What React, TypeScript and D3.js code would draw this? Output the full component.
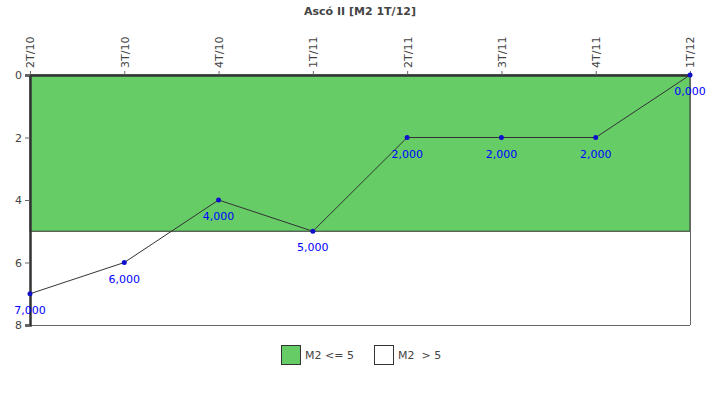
import React, { useEffect, useRef } from 'react';
import * as d3 from 'd3';

const categories = ['2T/10', '3T/10', '4T/10', '1T/11', '2T/11', '3T/11', '4T/11', '1T/12'];
const values = [7, 6, 4, 5, 2, 2, 2, 0];
const yTicks = [0, 2, 4, 6, 8];
const threshold = 5;
const legendLabels = ['M2 <= 5', 'M2  > 5'];
const legendColors = ['#66CC66', '#FFFFFF'];

const App = () => {
  const ref = useRef<SVGSVGElement>(null);

  useEffect(() => {
    const svg = d3.select(ref.current);
    svg.selectAll('*').remove();

    const margin = { top: 75, left: 30 },
      width = 660,
      height = 250;
    const font = 'DejaVu Sans, Verdana, sans-serif';

    const x = d3.scalePoint<string>().domain(categories).range([0, width]);
    const y = d3.scaleLinear().domain([0, 8]).range([0, height]);

    svg.append('text')
      .attr('x', 360).attr('y', 15)
      .attr('text-anchor', 'middle')
      .attr('font-family', font).attr('font-size', 11).attr('font-weight', 'bold')
      .attr('fill', '#444')
      .text('Ascó II [M2 1T/12]');

    const g = svg.append('g').attr('transform', `translate(${margin.left},${margin.top})`);

    // threshold band
    g.append('rect')
      .attr('x', 0).attr('y', y(0))
      .attr('width', width).attr('height', y(threshold) - y(0))
      .attr('fill', legendColors[0])
      .attr('stroke', '#333').attr('stroke-width', 1);

    // frame
    g.append('line').attr('x1', 0).attr('x2', width).attr('y1', height + 0.5).attr('y2', height + 0.5)
      .attr('stroke', '#666');
    g.append('line').attr('x1', width + 0.5).attr('x2', width + 0.5).attr('y1', 0).attr('y2', height)
      .attr('stroke', '#666');

    // left axis
    const ya = g.append('g')
      .call(d3.axisLeft(y).tickValues(yTicks).tickFormat(d3.format('d')).tickSize(5).tickPadding(3));
    ya.select('.domain').attr('stroke', '#333').attr('stroke-width', 2.5);
    ya.selectAll('.tick line').attr('stroke', '#666');
    ya.selectAll('text').attr('font-family', font).attr('font-size', 11).attr('fill', '#444');

    // top axis
    const xa = g.append('g')
      .call(d3.axisTop(x).tickSize(4).tickPadding(3).tickSizeOuter(0));
    xa.select('.domain').attr('stroke', '#333').attr('stroke-width', 2.5);
    xa.selectAll('.tick line').attr('stroke', '#666');
    xa.selectAll('text')
      .attr('font-family', font).attr('font-size', 11).attr('fill', '#444')
      .attr('transform', 'rotate(-90)')
      .attr('text-anchor', 'start')
      .attr('x', 7).attr('y', 0).attr('dy', '0.35em');

    const line = d3.line<number>()
      .x((d, i) => x(categories[i]) as number)
      .y(d => y(d));

    g.append('path')
      .datum(values)
      .attr('fill', 'none')
      .attr('stroke', '#333')
      .attr('stroke-width', 1)
      .attr('d', line);

    g.selectAll('.pt')
      .data(values)
      .enter()
      .append('circle')
      .attr('cx', (d, i) => x(categories[i]) as number)
      .attr('cy', d => y(d))
      .attr('r', 2.5)
      .attr('fill', '#1010CC');

    g.selectAll('.lbl')
      .data(values)
      .enter()
      .append('text')
      .attr('x', (d, i) => x(categories[i]) as number)
      .attr('y', d => y(d) + 20)
      .attr('text-anchor', 'middle')
      .attr('font-family', font).attr('font-size', 11)
      .attr('fill', '#0000FF')
      .text(d => d3.format('.3f')(d).replace('.', ','));

    // legend
    const lg = svg.append('g').attr('transform', 'translate(281,345)');
    const offs = [0, 93];
    legendLabels.forEach((l, i) => {
      lg.append('rect')
        .attr('x', offs[i] + 0.5).attr('y', 0.5)
        .attr('width', 19).attr('height', 19)
        .attr('fill', legendColors[i]).attr('stroke', '#333');
      lg.append('text')
        .attr('x', offs[i] + 24).attr('y', 14)
        .attr('font-family', font).attr('font-size', 11).attr('fill', '#444')
        .attr('xml:space', 'preserve')
        .style('white-space', 'pre')
        .text(l);
    });
  }, []);

  return <svg ref={ref} width={720} height={400} style={{ position: 'absolute', left: 0, top: 0 }}></svg>;
};

export default App;
